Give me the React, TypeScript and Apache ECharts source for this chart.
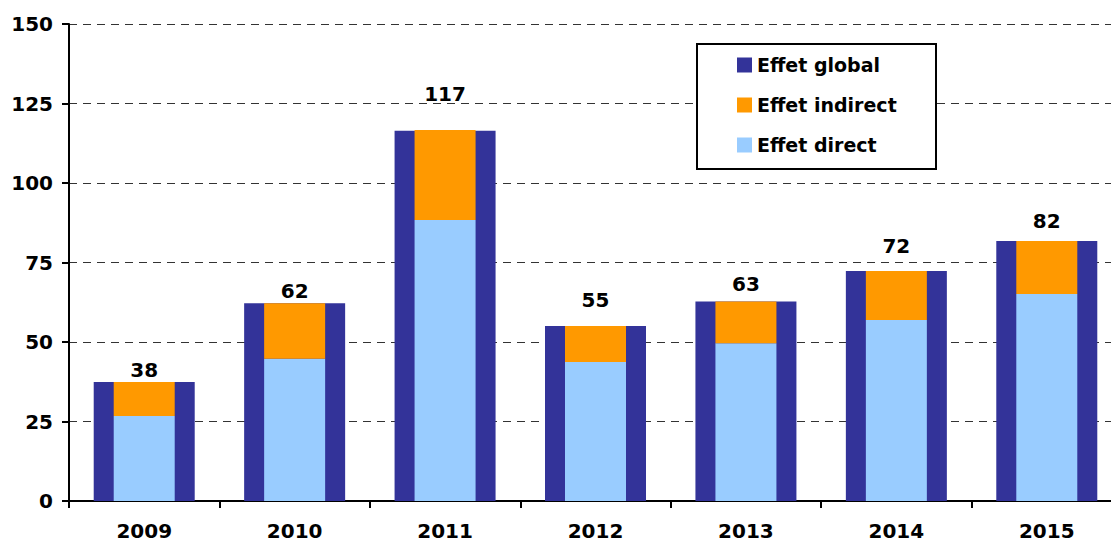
import React, { useEffect, useRef } from "react";
import * as echarts from "echarts";

const years = ["2009", "2010", "2011", "2012", "2013", "2014", "2015"];
const effetGlobal = [37.4, 62.2, 116.4, 55.0, 62.7, 72.3, 81.8];
const effetDirect = [26.7, 44.7, 88.4, 43.7, 49.6, 56.9, 65.1];
const effetIndirect = [10.7, 17.5, 28.3, 11.3, 13.1, 15.4, 16.7];
const totalLabels = ["38", "62", "117", "55", "63", "72", "82"];
const labelLift = [0, 0, 25, 14, 6, 13, 8];

const FONT = "DejaVu Sans";

export default function App() {
  const ref = useRef<HTMLDivElement>(null);
  useEffect(() => {
    if (!ref.current) return;
    const chart = echarts.init(ref.current, undefined, { renderer: "svg" });
    const axisLabelStyle = {
      fontFamily: FONT,
      fontWeight: "bold" as const,
      fontSize: 20,
      color: "#000",
    };
    chart.setOption({
      animation: false,
      backgroundColor: "#fff",
      grid: { left: 69, right: 3, top: 24, bottom: 41, containLabel: false },
      xAxis: [
        {
          type: "category",
          data: years,
          axisLine: { show: true, lineStyle: { color: "#000", width: 2 } },
          axisTick: { show: true, length: 7, lineStyle: { color: "#000", width: 2 } },
          axisLabel: { ...axisLabelStyle, margin: 20 },
          splitLine: { show: false },
        },
        {
          type: "category",
          data: years,
          show: false,
        },
      ],
      yAxis: {
        type: "value",
        min: 0,
        max: 150,
        interval: 25,
        axisLine: { show: true, lineStyle: { color: "#000", width: 2 } },
        axisTick: { show: true, length: 7, lineStyle: { color: "#000", width: 2 } },
        axisLabel: { ...axisLabelStyle, margin: 16 },
        splitLine: { show: true, lineStyle: { color: "#333", width: 1, type: [8, 6] } },
      },
      legend: {
        orient: "vertical",
        left: 737,
        top: 55,
        padding: 0,
        itemWidth: 15,
        itemHeight: 15,
        itemGap: 20,
        itemTextGap: 6,
        icon: "rect",
        z: 20,
        data: ["Effet global", "Effet indirect", "Effet direct"],
        textStyle: {
          fontFamily: FONT,
          fontWeight: "bold",
          fontSize: 19,
          lineHeight: 20,
          color: "#000",
        },
      },
      graphic: [
        {
          type: "rect",
          left: 696,
          top: 43,
          z: 10,
          shape: { width: 239, height: 125 },
          style: { fill: "#fff", stroke: "#000", lineWidth: 2 },
        },
      ],
      series: [
        {
          name: "Effet global",
          type: "bar",
          xAxisIndex: 0,
          barWidth: 101,
          itemStyle: { color: "#333399" },
          data: effetGlobal.map((v, i) => ({
            value: v,
            label: {
              show: true,
              position: "top",
              distance: 2,
              offset: [0, -labelLift[i]],
              formatter: () => totalLabels[i],
              fontFamily: FONT,
              fontWeight: "bold",
              fontSize: 20,
              color: "#000",
            },
          })),
          z: 2,
        },
        {
          name: "Effet direct",
          type: "bar",
          xAxisIndex: 1,
          stack: "inner",
          barWidth: 61,
          itemStyle: { color: "#99CCFF" },
          data: effetDirect,
          z: 3,
        },
        {
          name: "Effet indirect",
          type: "bar",
          xAxisIndex: 1,
          stack: "inner",
          barWidth: 61,
          itemStyle: { color: "#FF9900" },
          data: effetIndirect,
          z: 3,
        },
      ],
    });
    return () => chart.dispose();
  }, []);
  return (
    <div
      ref={ref}
      style={{ position: "fixed", left: 0, top: 0, width: 1125, height: 542, background: "#fff" }}
    />
  );
}
